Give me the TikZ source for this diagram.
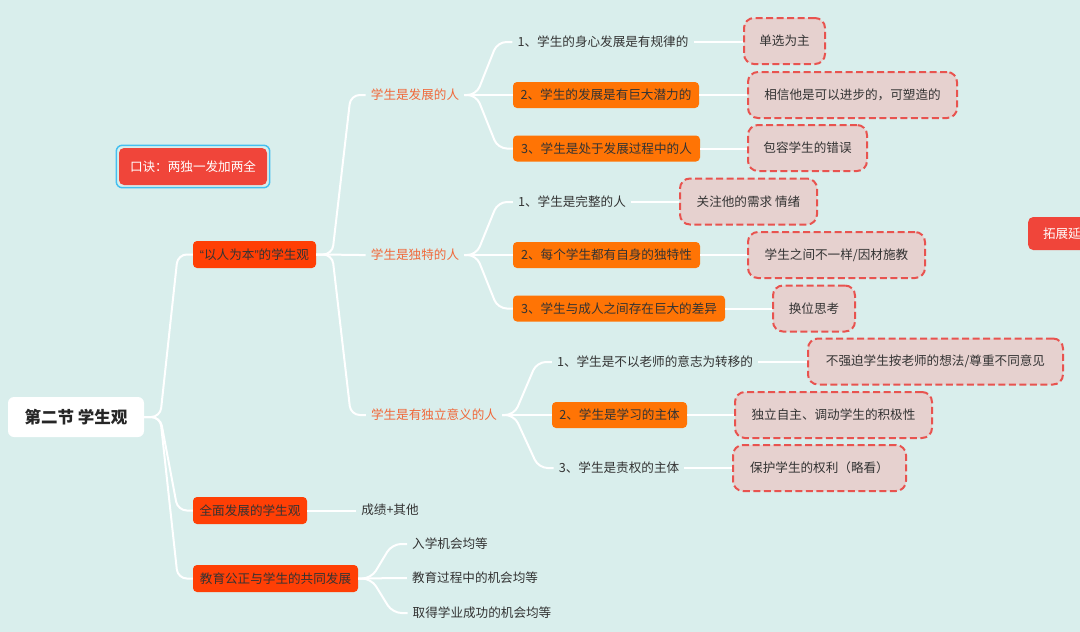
\documentclass[tikz,border=0pt]{standalone}
\usepackage{fontspec}
\newfontfamily\cjk{Noto Sans CJK SC}
\newfontfamily\lat{Liberation Sans}
\usetikzlibrary{calc}
\definecolor{bg}{HTML}{D9EEEC}
\definecolor{lvone}{HTML}{FF3F05}
\definecolor{lvthree}{HTML}{FF7405}
\definecolor{lvtwo}{HTML}{F0683A}
\definecolor{dfill}{HTML}{E6D1CF}
\definecolor{dborder}{HTML}{E8534F}
\definecolor{kred}{HTML}{F0453A}
\definecolor{kblue}{HTML}{45BFF0}
\definecolor{txt}{HTML}{333333}
\newcommand\brc[4]{\draw[conn,rounded corners=9pt] (#1.east) -- ++(#3,0) -- ($(#2.west)+(-#4,0)$) -- (#2.west);}
\newcommand\lf[2]{\draw[conn] (#1.east) -- (#1.east -| #2.west);}
\begin{document}
\begin{tikzpicture}[x=1pt,y=-1pt,
  conn/.style={draw=white, line width=2pt},
  base/.style={font=\cjk\fontsize{12.6}{15}\selectfont, text=txt, inner sep=0pt},
  rootbox/.style={base, font=\cjk\bfseries\fontsize{16.5}{19}\selectfont, fill=white, rounded corners=6pt, text=black!85},
  lone/.style={base, fill=lvone, rounded corners=4pt, text=black!80, minimum height=27pt},
  ltwo/.style={base, text=lvtwo, inner xsep=5pt, inner ysep=4pt},
  plain/.style={base, inner xsep=5pt, inner ysep=4pt},
  lthree/.style={base, fill=lvthree, rounded corners=4pt, text=black!80, minimum height=26pt},
  dbox/.style={base, fill=dfill, draw=dborder, line width=2pt, dash pattern=on 7pt off 3.5pt, rounded corners=10pt, minimum height=46pt},
  redbox/.style={base, fill=kred, text=white, rounded corners=5pt}
]
\clip (0,0) rectangle (1080,632);
\fill[bg] (0,0) rectangle (1080,632);

% root and first level
\node[rootbox, minimum width=136pt, minimum height=40pt] (root) at (76,417) {第二节 学生观};
\node[redbox, minimum width=148pt, minimum height=37pt] (kj) at (193,166.5) {口诀：两独一发加两全};
\draw[kblue, line width=1.5pt, rounded corners=6pt] ($(kj.south west)+(-2.5,2.5)$) rectangle ($(kj.north east)+(2.5,-2.5)$);
\node[redbox, anchor=west, minimum width=80pt, minimum height=33pt] (tz) at (1028,233.5) {拓展延伸};

\node[lone, minimum width=123pt] (a1) at (254.5,254.5) {{\lat “}以人为本{\lat ”}的学生观};
\node[lone, minimum width=114pt] (a2) at (250,510.5) {全面发展的学生观};
\node[lone, minimum width=165pt] (a3) at (275.5,578.5) {教育公正与学生的共同发展};

% second level
\node[ltwo] (b1) at (415,95) {学生是发展的人};
\node[ltwo] (b2) at (415,255) {学生是独特的人};
\node[ltwo] (b3) at (434,415) {学生是有独立意义的人};
\node[plain] (e0) at (390,510) {成绩+其他};
\node[plain] (e1) at (450,544) {入学机会均等};
\node[plain] (e2) at (475,578) {教育过程中的机会均等};
\node[plain] (e3) at (482,613) {取得学业成功的机会均等};

% third level
\node[plain] (c11) at (603,42) {1、学生的身心发展是有规律的};
\node[lthree, minimum width=186pt] (c12) at (606,95) {2、学生的发展是有巨大潜力的};
\node[lthree, minimum width=187pt] (c13) at (606.5,148.5) {3、学生是处于发展过程中的人};
\node[plain] (c21) at (572,202) {1、学生是完整的人};
\node[lthree, minimum width=187pt] (c22) at (606.5,255) {2、每个学生都有自身的独特性};
\node[lthree, minimum width=212pt] (c23) at (619,308.5) {3、学生与成人之间存在巨大的差异};
\node[plain] (c31) at (655,362) {1、学生是不以老师的意志为转移的};
\node[lthree, minimum width=135pt] (c32) at (619.5,415) {2、学生是学习的主体};
\node[plain] (c33) at (619,468) {3、学生是责权的主体};

% fourth level
\node[dbox, minimum width=81pt] (d11) at (784.5,41) {单选为主};
\node[dbox, minimum width=209pt] (d12) at (852.5,95) {相信他是可以进步的，可塑造的};
\node[dbox, minimum width=119pt] (d13) at (807.5,148) {包容学生的错误};
\node[dbox, minimum width=137pt] (d21) at (748.5,201.5) {关注他的需求 情绪};
\node[dbox, minimum width=177pt] (d22) at (836.5,255) {学生之间不一样/因材施教};
\node[dbox, minimum width=82pt] (d23) at (814,308.5) {换位思考};
\node[dbox, minimum width=255pt] (d31) at (935.5,361.5) {不强迫学生按老师的想法/尊重不同意见};
\node[dbox, minimum width=197pt] (d32) at (833.5,415) {独立自主、调动学生的积极性};
\node[dbox, minimum width=173pt] (d33) at (819.5,468) {保护学生的权利（略看）};

% connectors
\brc{root}{a1}{16}{15}
\brc{root}{a2}{16}{15}
\brc{root}{a3}{16}{15}
\brc{a1}{b1}{16}{15}
\brc{a1}{b2}{16}{15}
\brc{a1}{b3}{16}{15}
\brc{b1}{c11}{12}{15}
\brc{b1}{c12}{12}{15}
\brc{b1}{c13}{12}{15}
\brc{b2}{c21}{12}{15}
\brc{b2}{c22}{12}{15}
\brc{b2}{c23}{12}{15}
\brc{b3}{c31}{12}{15}
\brc{b3}{c32}{12}{15}
\brc{b3}{c33}{12}{15}
\brc{a3}{e1}{13}{15}
\brc{a3}{e2}{13}{15}
\brc{a3}{e3}{13}{15}
\draw[conn] (a2.east) -- (a2.east -| e0.west);
\lf{c11}{d11}
\lf{c12}{d12}
\lf{c13}{d13}
\lf{c21}{d21}
\lf{c22}{d22}
\lf{c23}{d23}
\lf{c31}{d31}
\lf{c32}{d32}
\lf{c33}{d33}
\end{tikzpicture}
\end{document}
